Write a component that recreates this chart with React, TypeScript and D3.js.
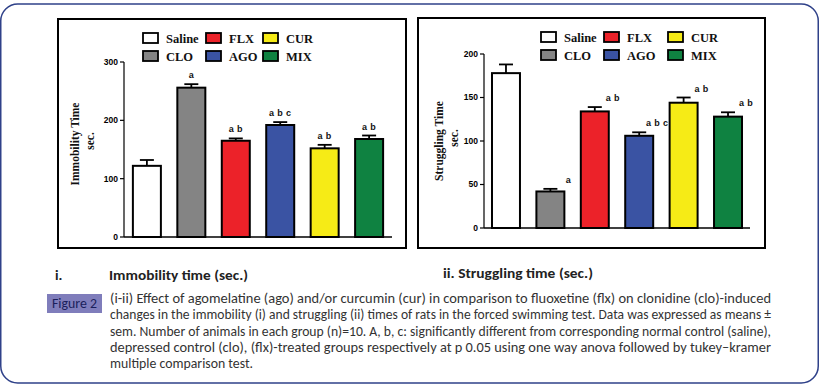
import React from "react";
import * as d3 from "d3";

// groups and colours
const groups = ["Saline", "CLO", "FLX", "AGO", "CUR", "MIX"];
const groupColors = ["#ffffff", "#848484", "#ec2229", "#3a53a3", "#f6eb16", "#0f8241"];

// panel i: immobility time (sec.)
const immobilityMean = [122, 256, 165, 192, 152, 168];
const immobilityErr = [10, 6, 4, 5, 6, 6];
const immobilityLetters = ["", "a", "a b", "a b c", "a b", "a b"];
const immobilityTicks = [0, 100, 200, 300];

// panel ii: struggling time (sec.)
const strugglingMean = [178, 42, 134, 106, 144, 128];
const strugglingErr = [10, 3, 5, 4, 6, 5];
const strugglingLetters = ["", "a", "a b", "a b c", "a b", "a b"];
const strugglingTicks = [0, 50, 100, 150, 200];

const captionLines = [
  "(i-ii) Effect of agomelatine (ago) and/or curcumin (cur) in comparison to fluoxetine (flx) on clonidine (clo)-induced",
  "changes in the immobility (i) and struggling (ii) times of rats in the forced swimming test. Data was expressed as means \u00b1",
  "sem. Number of animals in each group (n)=10. A, b, c: significantly different from corresponding normal control (saline),",
  "depressed control (clo), (flx)-treated groups respectively at p 0.05 using one way anova followed by tukey\u2013kramer",
  "multiple comparison test.",
];
const captionWidths = [661, 661, 661, 661, 143];

const sansBold = "Arial, 'Liberation Sans', Helvetica, sans-serif";
const serifBold = "'Times New Roman', 'Liberation Serif', serif";
const narrow = "Calibri, 'Liberation Sans Narrow', 'DejaVu Sans Condensed', 'Open Sans', sans-serif";

type PanelProps = {
  frame: { x: number; y: number; w: number; h: number };
  xRange: [number, number];
  outer: number;
  yRange: [number, number];
  yMax: number;
  ticks: number[];
  means: number[];
  errs: number[];
  letters: string[];
  letterSide: boolean;
  legend: { x: number; y: number; cols: number[] };
  titleX: number;
  secX: number;
  titleY: number;
  title: string;
};

function Panel(p: PanelProps) {
  const x = d3.scaleBand<string>().domain(groups).range(p.xRange).paddingInner(0.37).paddingOuter(p.outer);
  const y = d3.scaleLinear().domain([0, p.yMax]).range(p.yRange);
  const ax = p.xRange[0];
  const bw = x.bandwidth();
  return (
    <g>
      <rect x={p.frame.x} y={p.frame.y} width={p.frame.w} height={p.frame.h} fill="none" stroke="#000" strokeWidth={2} />
      {/* legend */}
      {groups.map((gname, i) => {
        const lx = p.legend.x + p.legend.cols[Math.floor(i / 2)];
        const ly = p.legend.y + (i % 2) * 18;
        return (
          <g key={gname}>
            <rect x={lx} y={ly} width={15} height={10} fill={groupColors[i]} stroke="#000" strokeWidth={1.8} />
            <text x={lx + 23} y={ly + 10} fontFamily={serifBold} fontWeight="bold" fontSize={12.5} fill="#111">
              {gname}
            </text>
          </g>
        );
      })}
      {/* y axis */}
      <line x1={ax} x2={ax} y1={y(0)} y2={y(p.yMax)} stroke="#000" strokeWidth={1.2} />
      {p.ticks.map((t) => (
        <g key={t}>
          <line x1={ax - 4} x2={ax} y1={y(t)} y2={y(t)} stroke="#000" strokeWidth={1.2} />
          <text x={ax - 6} y={y(t)} dy="0.35em" textAnchor="end" fontFamily={sansBold} fontWeight="bold" fontSize={8.5}>
            {t}
          </text>
        </g>
      ))}
      {/* bars */}
      {groups.map((gname, i) => {
        const bx = x(gname)!;
        const top = y(p.means[i]);
        const errTop = y(p.means[i] + p.errs[i]);
        const cx = bx + bw / 2;
        const lx = p.letterSide ? bx + bw + 4 : cx;
        return (
          <g key={gname}>
            <line x1={cx} x2={cx} y1={top} y2={errTop} stroke="#000" strokeWidth={1.8} />
            <line x1={cx - 7} x2={cx + 7} y1={errTop} y2={errTop} stroke="#000" strokeWidth={1.8} />
            <rect x={bx} y={top} width={bw} height={y(0) - top} fill={groupColors[i]} stroke="#000" strokeWidth={2} />
            {p.letters[i] && (
              <text x={lx} y={errTop - 6} textAnchor="middle" fontFamily={sansBold} fontWeight="bold" fontSize={9} letterSpacing={0.4} fill="#111">
                {p.letters[i]}
              </text>
            )}
          </g>
        );
      })}
      <line x1={ax} x2={p.xRange[1]} y1={y(0)} y2={y(0)} stroke="#000" strokeWidth={1.5} />
      {/* axis title */}
      <text transform={`translate(${p.titleX},${p.titleY}) rotate(-90)`} textAnchor="middle" fontFamily={serifBold} fontWeight="bold" fontSize={11.5} fill="#111">
        {p.title}
      </text>
      <text transform={`translate(${p.secX},${p.titleY - 3}) rotate(-90)`} textAnchor="middle" fontFamily={serifBold} fontWeight="bold" fontSize={11.5} fill="#111">
        sec.
      </text>
    </g>
  );
}

export default function App() {
  return (
    <div style={{ position: "absolute", left: 0, top: 0, background: "#fff" }}>
      <svg width={820} height={386} style={{ display: "block" }}>
        <rect x={0} y={0} width={820} height={386} fill="#fff" />
        <rect x={0.75} y={4} width={817.5} height={379} rx={17} fill="none" stroke="#2f4189" strokeWidth={1.5} />

        <Panel
          frame={{ x: 58, y: 19, w: 348, h: 229 }}
          xRange={[124, 392]}
          outer={0.2}
          yRange={[237, 62]}
          yMax={300}
          ticks={immobilityTicks}
          means={immobilityMean}
          errs={immobilityErr}
          letters={immobilityLetters}
          letterSide={false}
          legend={{ x: 143, y: 33, cols: [0, 63, 120] }}
          titleX={79}
          secX={94}
          titleY={144}
          title="Immobility Time"
        />
        <Panel
          frame={{ x: 418, y: 18, w: 347, h: 230 }}
          xRange={[484, 750]}
          outer={0.18}
          yRange={[228, 54]}
          yMax={200}
          ticks={strugglingTicks}
          means={strugglingMean}
          errs={strugglingErr}
          letters={strugglingLetters}
          letterSide={true}
          legend={{ x: 541, y: 32, cols: [0, 63, 127] }}
          titleX={443}
          secX={458}
          titleY={141}
          title="Struggling Time"
        />

        {/* panel titles */}
        <text x={55} y={280} fontFamily={narrow} fontWeight="bold" fontSize={14.5} fill="#222">i.</text>
        <text x={109} y={280} fontFamily={narrow} fontWeight="bold" fontSize={14.5} fill="#222" textLength={139} lengthAdjust="spacingAndGlyphs">
          Immobility time (sec.)
        </text>
        <text x={443} y={278} fontFamily={narrow} fontWeight="bold" fontSize={14.5} fill="#222" textLength={150} lengthAdjust="spacingAndGlyphs">
          ii. Struggling time (sec.)
        </text>

        {/* caption */}
        <rect x={47} y={294} width={55} height={19} fill="#7f7dbb" />
        <text x={52} y={308} fontFamily={narrow} fontSize={13.5} fontWeight={500} fill="#1b1f5c" textLength={45} lengthAdjust="spacingAndGlyphs">
          Figure 2
        </text>
        {captionLines.map((line, i) => (
          <text
            key={i}
            x={110}
            y={303 + i * 16.3}
            fontFamily={narrow}
            fontSize={13.3}
            fill="#333"
            textLength={captionWidths[i]}
            lengthAdjust="spacingAndGlyphs"
          >
            {line}
          </text>
        ))}
      </svg>
    </div>
  );
}
